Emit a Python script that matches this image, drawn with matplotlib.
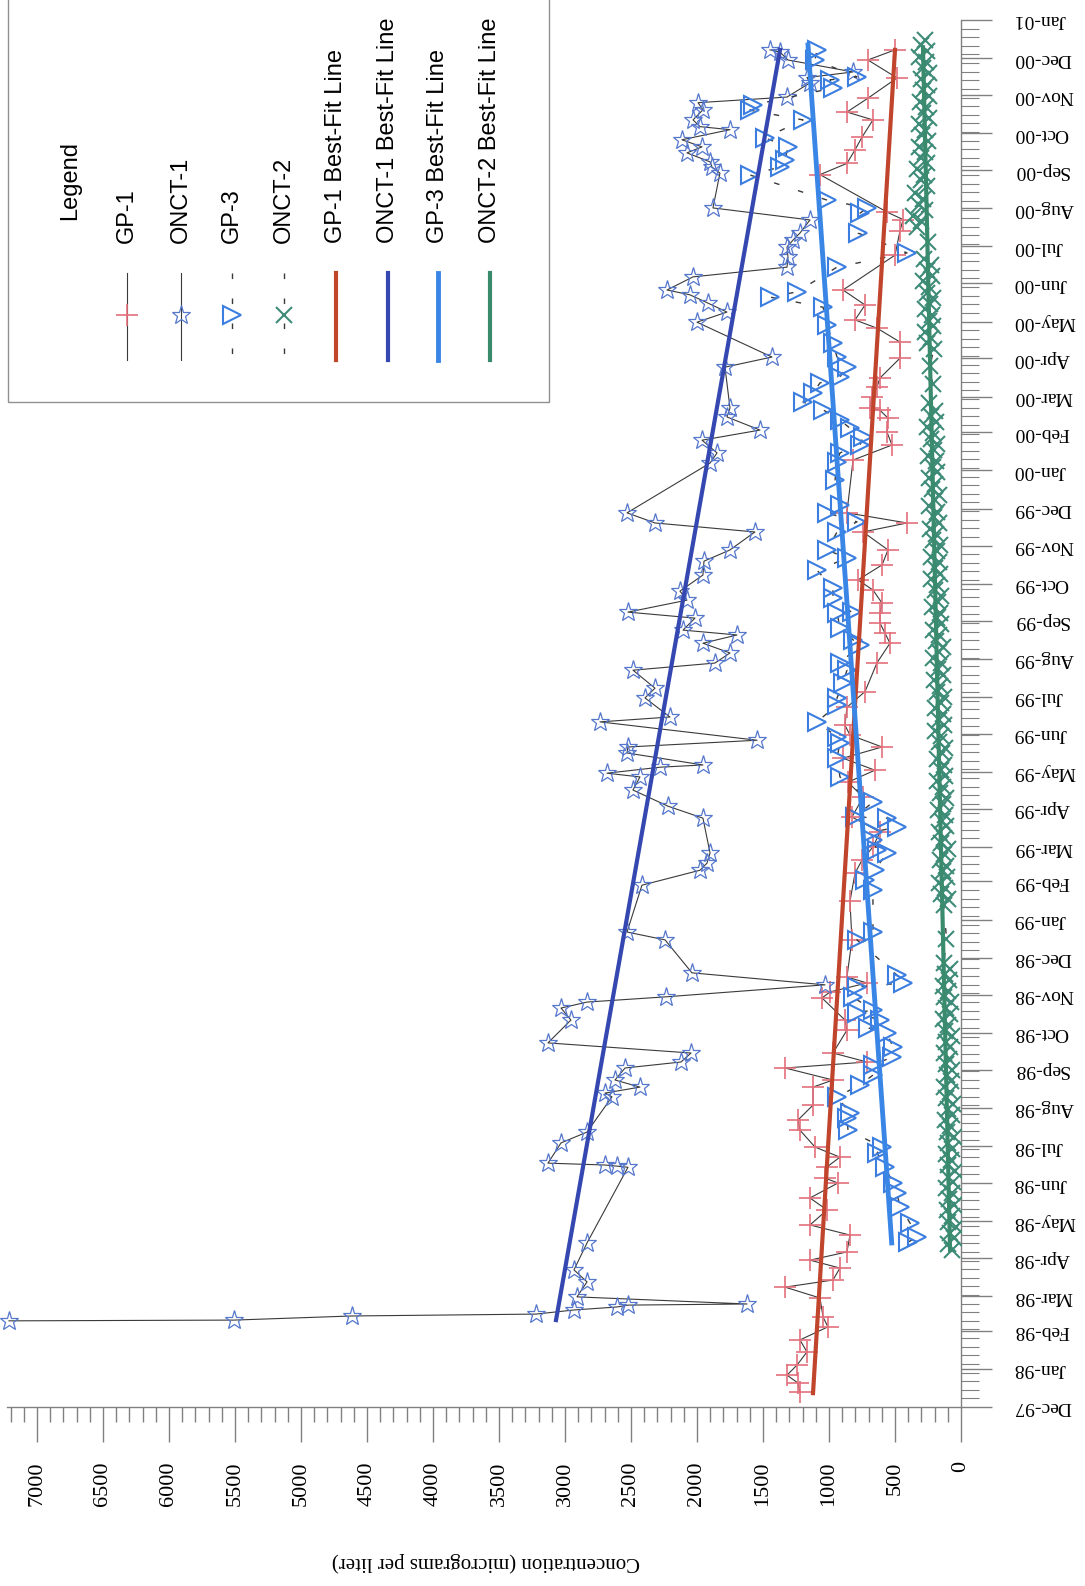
import numpy as np
import pandas as pd
import matplotlib
matplotlib.use('Agg')
import matplotlib.pyplot as plt
import matplotlib.dates as mdates
from matplotlib.ticker import MultipleLocator
from matplotlib.lines import Line2D
from matplotlib.patches import Rectangle

# sampling times are in months after 1 Dec 1997, concentrations in ug/L
gp1_m = [0.40, 0.64, 0.85, 1.12, 1.47, 1.79, 2.14, 2.40, 2.91, 3.20,
         3.39, 3.71, 3.92, 4.14, 4.59, 4.86, 5.26, 5.58, 5.98, 6.11,
         6.41, 6.67, 6.94, 7.39, 7.66, 8.06, 8.54, 8.73, 9.05, 9.21,
         9.45, 10.06, 10.33, 10.92, 11.08, 11.32, 11.48, 12.47, 13.50, 14.25,
         14.60, 14.95, 15.35, 15.75, 16.28, 16.68, 17.00, 17.32, 17.62, 17.94,
         18.20, 18.68, 19.10, 19.87, 20.39, 20.66, 20.93, 21.20, 21.46, 21.81,
         22.08, 22.48, 22.88, 23.36, 23.60, 23.87, 25.28, 25.68, 26.03, 26.40,
         26.61, 26.67, 26.96, 27.23, 27.47, 28.00, 28.43, 28.80, 29.02, 29.42,
         29.82, 30.75, 31.40, 31.70, 31.90, 32.90, 33.20, 33.56, 33.90, 34.36,
         34.57, 34.94, 35.48, 35.96, 36.23]
gp1_v = [1220, 1235, 1318, 1242, 1167, 1220, 1008, 1045, 1068, 1333,
         970, 917, 1144, 864, 841, 1144, 1015, 1144, 932, 1030,
         1015, 917, 1106, 1220, 1235, 1121, 1121, 970, 1333, 712,
         970, 864, 879, 1053, 992, 712, 864, 826, 841, 803,
         750, 667, 614, 826, 742, 856, 652, 894, 598, 841,
         879, 864, 727, 636, 538, 576, 614, 614, 598, 667,
         780, 598, 553, 742, 409, 864, 818, 523, 561, 553,
         614, 689, 674, 636, 614, 462, 462, 636, 803, 727,
         894, 500, 462, 439, 561, 1068, 864, 803, 750, 667,
         864, 705, 485, 705, 500]

onct1_m = [2.30, 2.32, 2.43, 2.48, 2.59, 2.67, 2.72, 2.75, 2.94, 3.34,
           3.66, 4.38, 6.40, 6.43, 6.46, 6.51, 7.05, 7.34, 8.28, 8.38,
           8.54, 8.73, 9.05, 9.21, 9.45, 9.72, 10.33, 10.65, 10.81, 10.95,
           11.27, 11.59, 12.47, 12.68, 13.93, 14.33, 14.52, 14.79, 15.72, 16.04,
           16.47, 16.82, 16.92, 17.08, 17.14, 17.46, 17.62, 17.80, 18.29, 18.42,
           18.93, 19.19, 19.67, 19.86, 20.13, 20.39, 20.61, 20.74, 21.06, 21.22,
           21.54, 21.78, 22.21, 22.58, 22.88, 23.36, 23.60, 23.87, 25.20, 25.47,
           25.81, 26.08, 26.43, 26.67, 27.76, 28.03, 28.96, 29.23, 29.47, 29.69,
           29.82, 30.17, 30.43, 30.70, 30.97, 31.15, 31.34, 31.69, 32.01, 32.94,
           33.10, 33.24, 33.48, 33.64, 33.83, 34.10, 34.18, 34.36, 34.63, 34.82,
           34.97, 35.35, 35.49, 35.64, 35.96, 36.17, 36.23]
onct1_v = [7212, 5508, 4614, 3220, 2932, 2606, 2523, 1621, 2909, 2833,
           2932, 2833, 2523, 2606, 2697, 3129, 3030, 2833, 2644, 2697,
           2432, 2621, 2545, 2121, 2045, 3129, 2955, 3030, 2833, 2235,
           1030, 2038, 2242, 2530, 2417, 1977, 1924, 1901, 1955, 2220,
           2485, 2432, 2682, 2280, 1955, 2530, 2523, 1545, 2735, 2205,
           2394, 2318, 2485, 1864, 1750, 1955, 1697, 2106, 2015, 2523,
           2076, 2129, 1955, 1947, 1750, 1561, 2318, 2530, 1901, 1848,
           1962, 1523, 1773, 1750, 1788, 1432, 2000, 1773, 1917, 2053,
           2227, 2030, 1318, 1311, 1318, 1273, 1220, 1144, 1879, 1826,
           1886, 1901, 2076, 1962, 2114, 1750, 1977, 2030, 1955, 1992,
           1318, 1144, 1167, 818, 1311, 1371, 1447]

gp3_m = [4.40, 4.54, 4.91, 5.34, 5.71, 5.98, 6.41, 6.78, 6.94, 7.39,
         7.71, 7.85, 8.28, 8.60, 8.86, 9.13, 9.34, 9.61, 9.98, 10.12,
         10.33, 10.52, 10.60, 10.94, 11.21, 11.32, 11.53, 12.47, 12.68, 13.80,
         14.07, 14.34, 14.79, 14.87, 15.14, 15.35, 15.48, 15.72, 15.75, 16.15,
         16.82, 17.33, 17.73, 17.89, 18.29, 18.74, 18.93, 19.33, 19.67, 19.86,
         20.34, 20.48, 20.80, 21.20, 21.21, 21.60, 21.86, 22.34, 22.66, 22.88,
         23.36, 23.63, 23.87, 24.08, 24.75, 25.23, 25.47, 25.68, 25.89, 26.13,
         26.35, 26.62, 26.83, 27.07, 27.34, 27.50, 27.76, 28.03, 28.40, 28.88,
         29.36, 29.63, 29.77, 30.43, 30.81, 31.34, 31.87, 32.01, 32.22, 32.89,
         33.10, 33.29, 33.64, 33.88, 34.36, 34.62, 34.76, 35.21, 35.43, 35.51,
         35.96, 36.23]
gp3_v = [401, 333, 386, 462, 485, 515, 576, 636, 598, 856,
         864, 841, 939, 765, 667, 667, 523, 515, 561, 705,
         614, 788, 667, 818, 788, 439, 485, 788, 667, 667,
         727, 652, 561, 636, 667, 667, 485, 561, 803, 667,
         917, 939, 917, 939, 1091, 939, 939, 894, 864, 917,
         765, 818, 917, 939, 826, 970, 970, 1091, 864, 1015,
         939, 788, 1015, 917, 954, 939, 917, 765, 742, 841,
         917, 1045, 1197, 1121, 1068, 917, 864, 939, 970, 1015,
         1045, 1447, 1242, 939, 409, 780, 765, 712, 1015, 1598,
         1371, 1333, 1311, 1485, 1197, 1598, 1576, 970, 992, 788,
         1106, 1091]

onct2_m = [4.20, 4.35, 4.50, 4.65, 4.80, 4.95, 5.10, 5.25, 5.40, 5.55,
           5.70, 5.85, 6.00, 6.15, 6.30, 6.45, 6.60, 6.75, 6.90, 7.05,
           7.20, 7.35, 7.50, 7.65, 7.80, 7.95, 8.10, 8.25, 8.40, 8.55,
           8.70, 8.85, 9.00, 9.15, 9.30, 9.45, 9.60, 9.75, 9.90, 10.05,
           10.20, 10.35, 10.50, 10.65, 10.80, 10.95, 11.10, 11.25, 11.40, 11.55,
           11.70, 11.85, 12.50, 13.40, 13.55, 13.70, 13.85, 14.00, 14.15, 14.30,
           14.45, 14.60, 14.75, 14.90, 15.05, 15.20, 15.35, 15.50, 15.65, 15.80,
           15.95, 16.10, 16.25, 16.40, 16.55, 16.70, 16.85, 17.00, 17.15, 17.30,
           17.45, 17.60, 17.75, 17.90, 18.05, 18.20, 18.35, 18.50, 18.65, 18.80,
           18.95, 19.10, 19.25, 19.40, 19.55, 19.70, 19.85, 20.00, 20.15, 20.30,
           20.45, 20.60, 20.75, 20.90, 21.05, 21.20, 21.35, 21.50, 21.65, 21.80,
           21.95, 22.10, 22.25, 22.40, 22.55, 22.70, 22.85, 23.00, 23.15, 23.30,
           23.45, 23.60, 23.75, 23.90, 24.05, 24.20, 24.35, 24.50, 24.65, 24.80,
           24.95, 25.10, 25.25, 25.40, 25.55, 25.70, 25.85, 26.00, 26.15, 26.30,
           26.45, 26.60, 26.80, 27.30, 27.80, 28.25, 28.40, 28.55, 28.70, 28.85,
           29.00, 29.15, 29.30, 29.45, 29.60, 29.75, 29.90, 30.05, 30.20, 30.35,
           30.50, 30.65, 31.10, 31.50, 31.65, 31.80, 31.95, 32.10, 32.25, 32.40,
           32.60, 32.75, 32.90, 33.05, 33.20, 33.35, 33.50, 33.65, 33.80, 33.95,
           34.10, 34.25, 34.40, 34.55, 34.70, 34.85, 35.00, 35.15, 35.30, 35.45,
           35.60, 35.75, 35.90, 36.05, 36.20, 36.35, 36.50]
onct2_v = [70, 100, 55, 85, 40, 95, 65, 105, 50, 90,
           70, 110, 60, 95, 45, 100, 75, 115, 65, 95,
           55, 105, 80, 120, 70, 100, 60, 110, 85, 125,
           75, 105, 65, 115, 90, 130, 80, 110, 70, 120,
           95, 135, 85, 115, 75, 125, 100, 140, 90, 120,
           80, 130, 110, 130, 95, 150, 120, 165, 105, 140,
           115, 160, 125, 100, 150, 130, 170, 110, 145, 120,
           175, 135, 110, 160, 140, 185, 120, 155, 130, 185,
           145, 120, 170, 150, 195, 130, 165, 140, 200, 155,
           130, 180, 160, 205, 140, 175, 150, 210, 165, 140,
           190, 170, 215, 150, 185, 160, 220, 175, 150, 200,
           180, 225, 160, 195, 170, 230, 185, 160, 210, 190,
           235, 170, 205, 180, 240, 195, 170, 220, 200, 245,
           180, 215, 190, 250, 205, 180, 230, 210, 255, 190,
           225, 200, 245, 215, 235, 205, 255, 225, 270, 210,
           245, 220, 275, 235, 210, 260, 240, 285, 220, 255,
           230, 280, 250, 330, 300, 365, 270, 320, 285, 345,
           260, 305, 280, 330, 255, 300, 275, 320, 250, 295,
           270, 315, 245, 290, 265, 310, 240, 285, 260, 305,
           245, 290, 265, 320, 255, 300, 270]

# best-fit line end points
gp1_fit_m, gp1_fit_v = [0.37, 36.23], [1121, 500]
onct1_fit_m, onct1_fit_v = [2.32, 36.23], [3068, 1371]
gp3_fit_m, gp3_fit_v = [4.38, 36.36], [525, 1159]
onct2_fit_m, onct2_fit_v = [4.19, 36.30], [83, 288]

start = pd.Timestamp('1997-12-01')


def dates(months):
    return (start + pd.to_timedelta(np.array(months) * 30.437, unit='D')).to_numpy()


plt.rcParams['font.family'] = ['Liberation Serif', 'DejaVu Serif']

W, H = 1085, 1586
fig = plt.figure(figsize=(W / 100, H / 100), dpi=100)
ax = fig.add_axes([7 / W, 1 - 1407 / H, 954 / W, (1407 - 20) / H])

dash = (0, (4, 14))
line_c = '#3a3a3a'
ax.plot(gp1_v, dates(gp1_m), color=line_c, lw=0.8, marker='+', ms=16,
        mec='#e2707c', mew=1.2, zorder=3)
ax.plot(onct1_v, dates(onct1_m), color=line_c, lw=0.8, marker='*', ms=14,
        mfc='none', mec='#5577cc', mew=0.9, zorder=3, clip_on=False)
ax.plot(gp3_v, dates(gp3_m), color=line_c, lw=1.0, ls=dash, marker='>', ms=13,
        mfc='none', mec='#3b7ee0', mew=1.5, zorder=3)
ax.plot(onct2_v, dates(onct2_m), color=line_c, lw=1.0, ls=dash, marker='x', ms=12,
        mec='#3e8c78', mew=1.5, zorder=3)

ax.plot(gp1_fit_v, dates(gp1_fit_m), color='#c0452c', lw=3, zorder=5)
ax.plot(onct1_fit_v, dates(onct1_fit_m), color='#3547b0', lw=3, zorder=5)
ax.plot(gp3_fit_v, dates(gp3_fit_m), color='#3a86e6', lw=3.5, zorder=5)
ax.plot(onct2_fit_v, dates(onct2_fit_m), color='#3a8a6e', lw=3, zorder=5)

ax.set_xlim(7227, 0)
ax.set_ylim(np.datetime64('1997-12-01'), np.datetime64('2001-01-01'))

for s in ['top', 'left']:
    ax.spines[s].set_visible(False)
for s in ['right', 'bottom']:
    ax.spines[s].set_color('#808080')
    ax.spines[s].set_linewidth(1)

ax.xaxis.set_major_locator(MultipleLocator(500))
ax.xaxis.set_minor_locator(MultipleLocator(100))
ax.tick_params(axis='x', which='major', length=25, width=1, color='#808080',
               pad=14, labelsize=16, labelrotation=90)
ax.tick_params(axis='x', which='minor', length=11, width=1, color='#808080')

ax.yaxis.tick_right()
ax.yaxis.set_major_locator(mdates.MonthLocator())
ax.yaxis.set_major_formatter(mdates.DateFormatter('%b-%y'))
ax.yaxis.set_minor_locator(mdates.WeekdayLocator(byweekday=mdates.MO))
ax.tick_params(axis='y', which='major', length=22, width=1, color='#808080',
               pad=16, labelsize=14, labelrotation=180)
ax.tick_params(axis='y', which='minor', length=13, width=0.8, color='#808080')
plt.setp(ax.get_yticklabels(), va='center')

fig.text(486 / W, 1 - 1562 / H, 'Concentration (micrograms per liter)',
         rotation=180, ha='center', va='center', fontsize=15)

# legend, drawn turned like the rest of the page
fig.add_artist(Rectangle((8 / W, 1 - 402 / H), 541 / W, 420 / H,
                         transform=fig.transFigure, facecolor='white',
                         edgecolor='#909090', lw=1, zorder=6))
sans = ['Liberation Sans', 'DejaVu Sans']
fig.text(70 / W, 1 - 220 / H, 'Legend', rotation=90, ha='center', va='bottom',
         fontsize=17, family=sans, zorder=7)

legend_items = [
    ('GP-1', dict(color=line_c, lw=0.8), dict(marker='+', ms=16, mec='#e2707c', mew=1.2)),
    ('ONCT-1', dict(color=line_c, lw=0.8), dict(marker='*', ms=14, mfc='none', mec='#5577cc', mew=0.9)),
    ('GP-3', dict(color=line_c, lw=1.0, ls=dash), dict(marker='>', ms=13, mfc='none', mec='#3b7ee0', mew=1.5)),
    ('ONCT-2', dict(color=line_c, lw=1.0, ls=dash), dict(marker='x', ms=12, mec='#3e8c78', mew=1.5)),
    ('GP-1 Best-Fit Line', dict(color='#c0452c', lw=3), None),
    ('ONCT-1 Best-Fit Line', dict(color='#3547b0', lw=3), None),
    ('GP-3 Best-Fit Line', dict(color='#3a86e6', lw=3.5), None),
    ('ONCT-2 Best-Fit Line', dict(color='#3a8a6e', lw=3), None),
]
legend_x = [127, 181, 232, 284, 336, 388, 438, 490]
for (label, lkw, mkw), lx in zip(legend_items, legend_x):
    xf = lx / W
    fig.add_artist(Line2D([xf, xf], [1 - 273 / H, 1 - 360 / H],
                          transform=fig.transFigure, zorder=7, **lkw))
    if mkw is not None:
        fig.add_artist(Line2D([xf], [1 - 315 / H], transform=fig.transFigure,
                              ls='none', zorder=8, **mkw))
    fig.text(xf, 1 - 243 / H, label, rotation=90, ha='center', va='bottom',
             fontsize=17, family=sans, zorder=7)

fig.savefig('out.png', dpi=100)
